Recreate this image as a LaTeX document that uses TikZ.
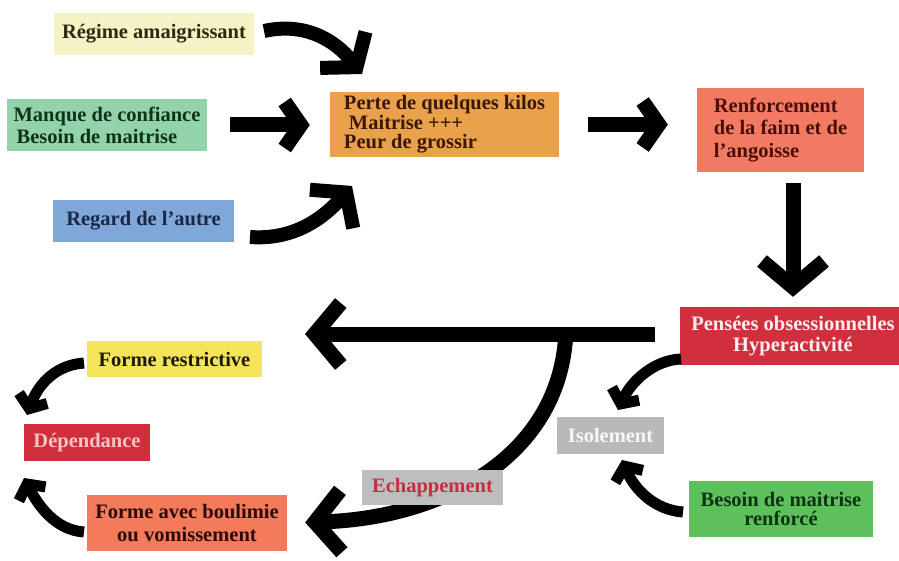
\documentclass[tikz,border=0pt]{standalone}
\usepackage{fontspec}
\setmainfont{Liberation Serif}
\usetikzlibrary{arrows.meta}
\definecolor{cReg}{HTML}{F5F2C6}\definecolor{tReg}{HTML}{2E2A12}
\definecolor{cManq}{HTML}{93D3AC}\definecolor{tManq}{HTML}{0F3318}
\definecolor{cRegard}{HTML}{7FA7D7}\definecolor{tRegard}{HTML}{1B2747}
\definecolor{cPerte}{HTML}{E9A24B}\definecolor{tPerte}{HTML}{3B1705}
\definecolor{cRenf}{HTML}{F27A62}\definecolor{tRenf}{HTML}{4A0F08}
\definecolor{cPens}{HTML}{D12E3E}\definecolor{tPens}{HTML}{FBEFEF}
\definecolor{cFrest}{HTML}{F3E45A}\definecolor{tFrest}{HTML}{1E1A08}
\definecolor{cDep}{HTML}{D02E3C}\definecolor{tDep}{HTML}{F2C5C5}
\definecolor{cIso}{HTML}{B9B9BB}\definecolor{tIso}{HTML}{F6F6F6}
\definecolor{cEch}{HTML}{BDBEC0}\definecolor{tEch}{HTML}{C4303F}
\definecolor{cBoul}{HTML}{F47A5C}\definecolor{tBoul}{HTML}{2C0A04}
\definecolor{cBesr}{HTML}{5DC05D}\definecolor{tBesr}{HTML}{0B3410}
\begin{document}
\begin{tikzpicture}[x=1pt,y=-1pt,
  box/.style={inner sep=0pt, align=center, font=\fontsize{20.5}{22}\selectfont\bfseries},
  bigarr/.style={line width=15pt, -{Straight Barb[length=16pt,width=46pt,sharp]}},
  hugearr/.style={line width=15pt, -{Straight Barb[length=26pt,width=62pt,sharp]}},
  curvarr/.style={line width=14pt, -{Straight Barb[length=22pt,width=58pt,sharp]}},
  smallarr/.style={line width=11pt, -{Straight Barb[length=11pt,width=30pt,sharp]}}]
\useasboundingbox (0,0) rectangle (899,561);
\fill[white] (0,0) rectangle (899,561);

\node[box, fill=cReg, text=tReg, minimum width=200pt, minimum height=42pt] (reg) at (154,34) {Régime amaigrissant};
\node[box, fill=cManq, text=tManq, minimum width=200pt, minimum height=52pt, align=left] (manq) at (107,125) {Manque de confiance\\\hspace*{3pt}Besoin de maitrise};
\node[box, fill=cRegard, text=tRegard, minimum width=181pt, minimum height=42pt] (regard) at (143.5,221) {Regard de l’autre};
\node[box, fill=cPerte, text=tPerte, minimum width=229pt, minimum height=65pt, align=left, font=\fontsize{20.5}{19.5}\selectfont\bfseries] (perte) at (444.5,124.5) {Perte de quelques kilos\\\hspace*{5pt}Maitrise +++\\Peur de grossir};
\node[box, fill=cRenf, text=tRenf, minimum width=167pt, minimum height=84pt, align=left, font=\fontsize{20.5}{22.5}\selectfont\bfseries] (renf) at (780.5,130) {Renforcement\\de la faim et de\\l’angoisse};
\node[box, fill=cPens, text=tPens, minimum width=226pt, minimum height=58pt, font=\fontsize{20.5}{21}\selectfont\bfseries] (pens) at (793,336) {Pensées obsessionnelles\\Hyperactivité};
\node[box, fill=cFrest, text=tFrest, minimum width=175pt, minimum height=36pt] (frest) at (174.5,359) {Forme restrictive};
\node[box, fill=cDep, text=tDep, minimum width=126pt, minimum height=37pt] (dep) at (87,442.5) {Dépendance};
\node[box, fill=cIso, text=tIso, minimum width=107pt, minimum height=37pt] (iso) at (610.5,435.5) {Isolement};
\node[box, fill=cBoul, text=tBoul, minimum width=200pt, minimum height=56pt, font=\fontsize{20.5}{23}\selectfont\bfseries] (boul) at (187,523) {Forme avec boulimie\\ou vomissement};
\node[box, fill=cBesr, text=tBesr, minimum width=184pt, minimum height=56pt, font=\fontsize{20.5}{19}\selectfont\bfseries] (besr) at (781,509) {Besoin de maitrise\\renforcé};

% free ends
\coordinate (regS) at (264,31);
\coordinate (regT) at (362,74);
\coordinate (gardS) at (250,237);
\coordinate (gardT) at (352,186);
\coordinate (leftT) at (305,334);
\coordinate (brS) at (566,330);
\coordinate (pensS) at (681,359);
\coordinate (isoT1) at (618,410);
\coordinate (besrS) at (683,512);
\coordinate (isoT2) at (622,460);
\coordinate (frestS) at (84,363);
\coordinate (depT1) at (27,415);
\coordinate (boulS) at (84,532);
\coordinate (depT2) at (24,478);

% connectors
\draw[curvarr] (regS) .. controls (305,22) and (335,40) .. (regT);
\draw[bigarr, shorten <=23pt, shorten >=20pt] (manq.east) -- (manq.east -| perte.west);
\draw[curvarr] (gardS) .. controls (290,240) and (320,222) .. (gardT);
\draw[bigarr, shorten <=29pt, shorten >=29pt] (perte.east) -- (perte.east -| renf.west);
\draw[hugearr, shorten <=11pt, shorten >=10pt] (pens.north |- renf.south) -- (pens.north);
\draw[hugearr, shorten <=25pt] (pens.west |- leftT) -- (leftT);
\draw[hugearr, shorten >=18pt] (brS) .. controls (562,455) and (445,518) .. (boul.east);
\draw[smallarr] (pensS) .. controls (655,360) and (632,380) .. (isoT1);
\draw[smallarr] (besrS) .. controls (655,510) and (635,490) .. (isoT2);
\draw[smallarr] (frestS) .. controls (55,365) and (38,385) .. (depT1);
\draw[smallarr] (boulS) .. controls (55,530) and (38,505) .. (depT2);

\node[box, fill=cEch, text=tEch, minimum width=141pt, minimum height=35pt] (ech) at (432.5,487.5) {Echappement};
\end{tikzpicture}
\end{document}
